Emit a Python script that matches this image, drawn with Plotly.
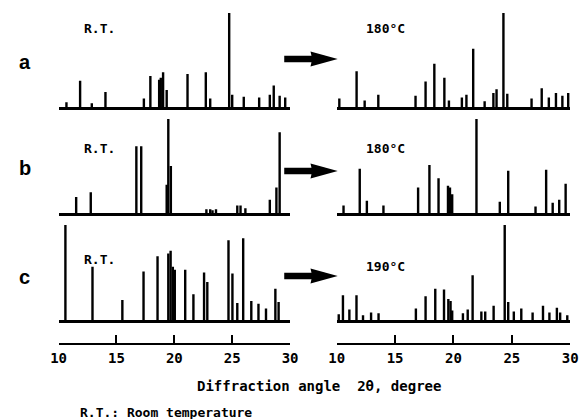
import plotly.graph_objects as go

# ---------------- data (2θ in degrees, relative intensity %) ----------------
a_rt_pos = [10.68, 11.86, 12.87, 14.05, 17.37, 17.93, 18.69, 18.83, 19.03, 19.34,
            21.14, 22.72, 23.10, 24.74, 25.00, 26.00, 27.33, 28.25, 28.59, 29.10, 29.58]
a_rt_int = [5, 28, 4, 16, 9, 33, 29, 31, 37, 18,
            35, 37, 9, 100, 13, 11, 10, 13, 23, 12, 10]

a_ht_pos = [10.22, 11.70, 12.39, 13.56, 16.75, 17.61, 18.36, 19.22, 19.61, 20.72, 21.11,
            21.69, 22.67, 23.42, 23.69, 24.28, 24.61, 26.69, 27.56, 28.17, 28.78, 29.33, 29.83]
a_ht_int = [9, 38, 7, 13, 12, 27, 46, 31, 7, 10, 13,
            62, 6, 15, 19, 100, 14, 9, 20, 10, 15, 12, 15]

b_rt_pos = [11.52, 12.78, 16.72, 17.14, 19.34, 19.48, 19.70, 22.77, 23.10, 23.30,
            23.60, 25.44, 25.72, 26.14, 28.25, 28.82, 29.10]
b_rt_int = [17, 22, 71, 71, 30, 100, 50, 4, 4, 3,
            4, 8, 8, 5, 14, 27, 86]

b_ht_pos = [10.58, 11.97, 12.58, 14.00, 16.97, 17.94, 18.72, 19.53, 19.70, 19.89,
            21.97, 23.97, 24.69, 27.03, 27.94, 28.50, 29.06, 29.61]
b_ht_int = [8, 47, 13, 8, 27, 51, 37, 29, 27, 20,
            100, 12, 45, 7, 46, 11, 14, 31]

c_rt_pos = [10.59, 12.93, 15.51, 17.34, 18.55, 19.48, 19.68, 19.87, 20.04, 20.94,
            21.65, 22.57, 22.85, 24.68, 25.02, 25.44, 25.95, 26.65, 27.27, 27.92,
            28.73, 29.01]
c_rt_int = [100, 56, 21, 51, 67, 70, 73, 56, 53, 53,
            27, 50, 40, 84, 49, 18, 86, 20, 17, 12,
            33, 19]

c_ht_pos = [10.17, 10.53, 11.08, 11.69, 12.25, 12.94, 13.58, 16.78, 17.61, 18.44,
            19.19, 19.56, 19.75, 19.89, 20.81, 21.22, 21.64, 22.39, 22.72, 23.44,
            24.39, 24.69, 25.17, 25.81, 26.78, 27.67, 28.22, 28.86, 29.14, 29.75]
c_ht_int = [6, 26, 11, 26, 5, 8, 7, 12, 25, 33,
            32, 22, 20, 10, 7, 11, 47, 9, 9, 15,
            100, 19, 9, 12, 8, 15, 8, 13, 8, 5]

sample_labels = ["a", "b", "c"]
left_labels = ["R.T.", "R.T.", "R.T."]
right_labels = ["180°C", "180°C", "190°C"]
tick_vals = [10, 15, 20, 25, 30]
tick_text = ["10", "15", "20", "25", "30"]
x_title = "Diffraction angle  2θ, degree"
footnote = "R.T.: Room temperature"

panels = [
    (a_rt_pos, a_rt_int, a_ht_pos, a_ht_int),
    (b_rt_pos, b_rt_int, b_ht_pos, b_ht_int),
    (c_rt_pos, c_rt_int, c_ht_pos, c_ht_int),
]

# ---------------- layout geometry ----------------
W, H = 585, 419
def py(px):
    return 1 - px / H
def pxx(px):
    return px / W

left_dom = [pxx(52), pxx(290)]
right_dom = [pxx(338), pxx(578)]
row_base = [107, 213, 320]
row_top = [13, 119, 225]
axis_row = 343

FONT = "DejaVu Sans Mono"

def stems(pos, inten):
    xs, ys = [], []
    for p, h in zip(pos, inten):
        xs += [p, p, None]
        ys += [0, h, None]
    return xs, ys

fig = go.Figure()
layout = {}
idx = 0
for r, (lp, li, rp, ri) in enumerate(panels):
    for c, (pos, inten) in enumerate([(lp, li), (rp, ri)]):
        idx += 1
        xs, ys = stems(pos, inten)
        xa = "x" if idx == 1 else f"x{idx}"
        ya = "y" if idx == 1 else f"y{idx}"
        fig.add_trace(go.Scatter(x=xs, y=ys, mode="lines", xaxis=xa, yaxis=ya,
                                 line=dict(color="black", width=2.4),
                                 hoverinfo="skip", showlegend=False))
        kx = "xaxis" if idx == 1 else f"xaxis{idx}"
        ky = "yaxis" if idx == 1 else f"yaxis{idx}"
        layout[kx] = dict(domain=left_dom if c == 0 else right_dom, range=[10, 30],
                          anchor=ya, showline=True, linecolor="black", linewidth=2.5,
                          showgrid=False, zeroline=False, showticklabels=False, ticks="")
        layout[ky] = dict(domain=[py(row_base[r]), py(row_top[r])], range=[0, 100],
                          anchor=xa, showline=False, showgrid=False, zeroline=False,
                          showticklabels=False, ticks="")

# bottom scale axes
for c in range(2):
    idx += 1
    xa, ya = f"x{idx}", f"y{idx}"
    fig.add_trace(go.Scatter(x=[10, 30], y=[0, 0], mode="markers", xaxis=xa, yaxis=ya,
                             marker=dict(opacity=0), hoverinfo="skip", showlegend=False))
    layout[f"xaxis{idx}"] = dict(domain=left_dom if c == 0 else right_dom, range=[10, 30],
                                 anchor=ya, showline=True, linecolor="black", linewidth=2,
                                 showgrid=False, zeroline=False, ticks="inside", ticklen=8,
                                 tickwidth=2, tickcolor="black", tickvals=tick_vals,
                                 ticktext=tick_text, ticklabelstandoff=1,
                                 tickfont=dict(family=FONT, size=14, color="black", weight="bold"))
    layout[f"yaxis{idx}"] = dict(domain=[py(axis_row), py(axis_row - 10)], range=[0, 1],
                                 anchor=xa, visible=False)

def note(text, x, y, size, family=FONT, xanchor="center", weight="bold"):
    return dict(text=text, x=pxx(x), y=py(y), xref="paper", yref="paper",
                xanchor=xanchor, yanchor="middle", showarrow=False,
                font=dict(family=family, size=size, color="black", weight=weight))

annotations = []
shapes = []
lab_y = [62, 168, 277]
lt_y = [29, 148, 259]
rt_y = [28, 148, 266]
arrow_y = [59, 171, 276]
for r in range(3):
    annotations.append(note(sample_labels[r], 17, lab_y[r], 20, family="Liberation Sans"))
    annotations.append(note(left_labels[r], 76, lt_y[r], 13, xanchor="left"))
    annotations.append(note(right_labels[r], 366, rt_y[r], 13, xanchor="left"))
    cy = arrow_y[r]
    x0, xb, xt = 284, 312, 339
    pts = [(x0, cy - 3.3), (xb, cy - 3.3), (xb - 1, cy - 7.5), (xt, cy),
           (xb - 1, cy + 7.5), (xb, cy + 3.3), (x0, cy + 3.3)]
    path = "M " + " L ".join(f"{pxx(x)},{py(y)}" for x, y in pts) + " Z"
    shapes.append(dict(type="path", path=path, xref="paper", yref="paper",
                       fillcolor="black", line=dict(color="black", width=0)))

annotations.append(note(x_title, 320, 386, 14))
annotations.append(note(footnote, 72, 412, 13, xanchor="left"))

fig.update_layout(width=W, height=H, margin=dict(l=0, r=0, t=0, b=0),
                  paper_bgcolor="white", plot_bgcolor="white",
                  annotations=annotations, shapes=shapes, **layout)

fig.write_html("out.html")
